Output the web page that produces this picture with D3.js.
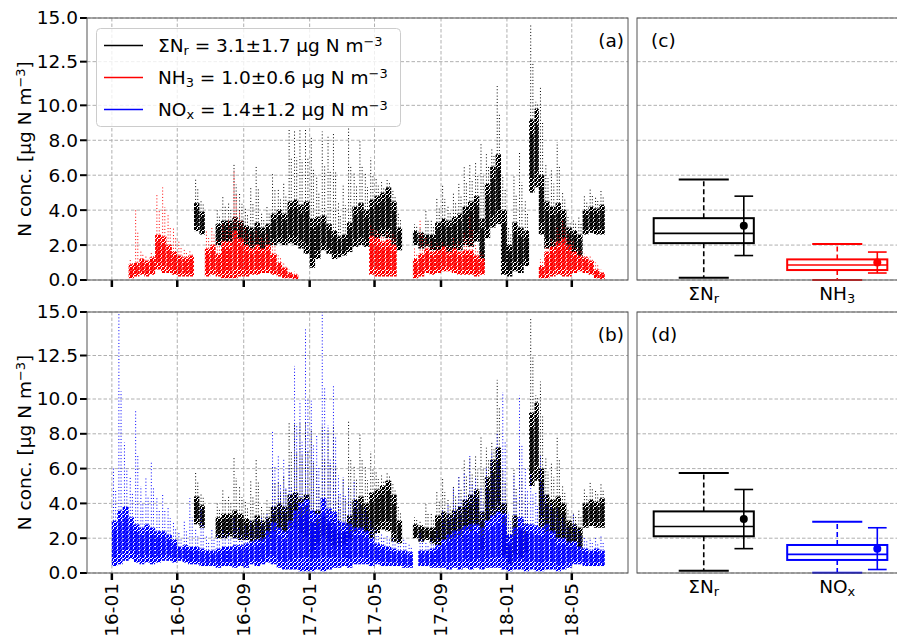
<!DOCTYPE html>
<html><head><meta charset="utf-8">
<script src="https://cdn.jsdelivr.net/npm/d3@7"></script>
<style>body{margin:0;background:#fff} text{font-family:"DejaVu Sans",sans-serif;fill:#000}</style>
</head><body><svg id="chart" width="897" height="640"></svg>
<script>
// ---- data (dekad bins: [core low, core high, peak]) ----
const dekads = [
"2016-01-01","2016-01-11","2016-01-21","2016-02-01","2016-02-11","2016-02-21","2016-03-01","2016-03-11","2016-03-21",
"2016-04-01","2016-04-11","2016-04-21","2016-05-01","2016-05-11","2016-05-21","2016-06-01","2016-06-11","2016-06-21",
"2016-07-01","2016-07-11","2016-07-21","2016-08-01","2016-08-11","2016-08-21","2016-09-01","2016-09-11","2016-09-21",
"2016-10-01","2016-10-11","2016-10-21","2016-11-01","2016-11-11","2016-11-21","2016-12-01","2016-12-11","2016-12-21",
"2017-01-01","2017-01-11","2017-01-21","2017-02-01","2017-02-11","2017-02-21","2017-03-01","2017-03-11","2017-03-21",
"2017-04-01","2017-04-11","2017-04-21","2017-05-01","2017-05-11","2017-05-21","2017-06-01","2017-06-11","2017-06-21",
"2017-07-01","2017-07-11","2017-07-21","2017-08-01","2017-08-11","2017-08-21","2017-09-01","2017-09-11","2017-09-21",
"2017-10-01","2017-10-11","2017-10-21","2017-11-01","2017-11-11","2017-11-21","2017-12-01","2017-12-11","2017-12-21",
"2018-01-01","2018-01-11","2018-01-21","2018-02-01","2018-02-11","2018-02-21","2018-03-01","2018-03-11","2018-03-21",
"2018-04-01","2018-04-11","2018-04-21","2018-05-01","2018-05-11","2018-05-21","2018-06-01","2018-06-11","2018-06-21",
"2018-07-01"];

const sumNr = [
null,null,null,null,null,null,null,null,null,
null,null,null,null,null,null,[2.8,4.4,5.8],[2.6,3.9,4.6],null,
null,[2.0,3.2,4.0],[2.0,3.4,4.8],[2.1,3.4,4.4],[2.0,3.6,6.7],[1.9,3.4,5.0],[1.9,3.1,4.2],[1.8,3.0,5.3],[1.7,3.3,6.5],
[1.5,3.0,3.8],[1.8,3.2,4.2],[2.0,3.8,6.1],[2.1,4.0,5.2],[2.0,3.8,5.6],[2.1,4.5,8.7],[2.0,4.6,8.6],[1.8,4.3,8.6],[1.5,4.5,8.7],
[0.7,3.5,8.2],[1.2,3.6,6.0],[1.7,3.7,8.5],[1.5,3.2,8.2],[1.2,2.8,8.4],[1.3,2.5,4.5],[1.4,2.6,5.4],[1.6,3.3,8.8],[1.9,4.2,6.2],
[2.0,4.4,8.0],[1.9,4.0,6.2],[2.0,4.6,7.0],[2.3,4.8,5.8],[2.5,5.0,5.6],[2.4,5.3,5.8],[1.8,4.5,5.1],[1.7,3.0,3.8],null,
null,[2.0,2.8,3.2],[1.8,2.7,3.0],[1.9,2.6,4.0],[1.7,2.6,3.4],[1.6,3.3,4.7],[1.5,3.5,5.4],[1.6,3.4,4.3],[1.6,3.6,5.0],
[1.7,3.8,5.5],[2.0,4.2,6.5],[1.9,4.5,6.6],[2.2,4.8,6.7],[0.8,3.5,7.8],[2.4,5.5,7.2],[3.0,6.5,7.5],[3.2,7.2,11.1],[0.3,4.0,6.0],
[0.2,2.0,3.0],[0.5,3.3,6.0],[0.4,3.0,7.3],[0.8,2.8,4.5],[5.0,9.2,14.6],[5.3,9.8,10.2],[2.6,6.0,11.0],[1.8,4.5,6.7],[1.8,4.2,6.4],
[1.4,4.4,7.9],[1.5,4.0,5.0],[1.4,3.0,3.6],[1.6,2.8,3.5],[1.1,2.6,3.7],[2.6,4.0,4.8],[2.7,4.2,5.3],[2.6,4.1,4.8],[2.6,4.3,5.2],
null];

const nh3 = [
null,null,null,[0.1,0.9,1.2],[0.2,1.0,4.0],[0.3,1.2,1.7],[0.2,1.1,1.4],[0.3,1.3,1.6],[0.6,2.6,4.9],
[0.4,2.5,5.3],[0.4,2.0,3.8],[0.3,1.6,3.0],[0.2,1.4,2.2],[0.2,1.3,1.8],[0.2,1.4,1.7],null,null,[0.2,1.8,2.8],
[0.3,2.0,3.0],[0.2,1.5,2.3],[0.1,2.2,3.2],[0.1,2.2,3.5],[0.1,2.8,6.3],[0.2,2.4,4.0],[0.2,2.0,3.0],[0.3,1.8,2.6],[0.3,2.0,2.8],
[0.4,1.8,2.5],[0.4,2.0,2.6],[0.3,1.5,2.2],[0.2,1.0,1.4],[0.1,0.7,1.0],[0.1,0.4,0.6],[0.05,0.3,0.5],null,null,
null,null,null,null,null,null,null,null,null,
null,null,[0.3,2.5,3.2],[0.2,2.4,2.9],[0.2,2.2,2.6],[0.2,2.3,2.8],[0.2,2.0,2.7],null,null,
null,[0.1,1.2,1.8],[0.2,1.5,3.4],[0.4,1.8,2.4],[0.3,1.6,2.2],[0.4,1.7,2.1],[0.5,1.9,2.2],[0.5,1.6,2.0],[0.4,1.8,2.4],
[0.3,1.6,2.2],[0.3,1.7,2.7],[0.3,1.7,3.7],[0.2,1.4,2.0],[0.3,1.2,1.6],null,null,null,null,
null,null,null,null,null,null,[0.1,0.8,1.2],[0.1,1.6,2.0],[0.2,1.9,2.4],
[0.3,2.2,3.0],[0.2,2.4,3.4],[0.2,2.0,2.6],[0.4,1.6,2.2],[0.5,1.4,1.8],[0.4,1.3,1.5],[0.3,1.1,1.4],[0.1,0.6,1.0],[0.05,0.4,0.6],
null];

const nox = [
[0.4,3.0,6.0],[0.5,3.6,15.0],[0.7,3.8,7.5],[0.8,3.2,5.5],[0.6,2.8,9.4],[0.5,2.6,5.0],[0.6,2.8,5.5],[0.5,2.6,6.4],[0.6,2.4,4.4],
[0.7,2.4,4.5],[0.7,2.2,3.8],[0.6,1.9,3.0],[0.7,1.5,2.4],[0.6,1.6,3.0],[0.5,1.5,4.3],[0.5,1.5,2.5],[0.4,1.4,3.7],[0.4,1.3,2.2],
[0.4,1.3,2.5],[0.3,1.4,2.2],[0.4,1.5,2.6],[0.4,1.5,2.4],[0.3,1.6,3.2],[0.4,1.6,2.6],[0.3,1.7,2.8],[0.5,1.8,3.0],[0.4,1.9,3.2],
[0.5,2.0,3.3],[0.6,2.4,3.4],[0.5,2.9,8.2],[0.3,2.6,6.8],[0.2,2.4,6.6],[0.2,3.0,6.2],[0.2,3.6,11.9],[0.1,4.0,9.9],[0.1,4.2,14.0],
[0.1,3.6,9.9],[0.2,3.4,8.0],[0.1,4.3,15.0],[0.2,3.7,8.5],[0.3,3.5,10.8],[0.3,3.0,5.6],[0.4,2.9,5.5],[0.3,2.8,5.0],[0.5,2.6,5.3],
[0.5,2.6,4.0],[0.5,2.4,3.8],[0.4,2.0,3.0],[0.5,1.7,2.5],[0.4,1.6,2.3],[0.4,1.5,2.2],[0.4,1.4,2.0],[0.4,1.3,1.9],[0.3,1.3,2.0],
[0.3,1.2,1.7],null,[0.4,1.3,2.4],[0.4,1.3,1.8],[0.3,1.4,2.0],[0.3,1.6,2.5],[0.3,1.9,3.6],[0.2,2.2,4.0],[0.3,2.4,4.9],
[0.2,2.5,5.5],[0.3,2.7,5.7],[0.2,2.8,6.8],[0.3,2.8,5.5],[0.2,2.6,5.0],[0.3,3.0,6.0],[0.3,3.3,7.0],[0.3,3.5,8.1],[0.2,3.4,10.4],
[0.1,2.2,3.5],[0.2,2.6,5.7],[0.2,3.2,10.2],[0.1,2.8,6.0],[0.2,2.8,5.7],[0.1,2.7,4.6],[0.1,2.6,6.7],[0.2,2.8,4.5],[0.2,2.4,4.0],
[0.1,2.0,3.7],[0.2,2.0,3.3],[0.3,1.8,2.6],[0.5,1.8,3.4],[0.5,1.5,2.6],[0.4,1.4,2.1],[0.4,1.3,2.0],[0.4,1.4,2.0],[0.4,1.3,2.1],
null];

const xTickDates = ["2016-01-01","2016-05-01","2016-09-01","2017-01-01","2017-05-01","2017-09-01","2018-01-01","2018-05-01"];
const xTickLabels = ["16-01","16-05","16-09","17-01","17-05","17-09","18-01","18-05"];
const yTicks = [0, 2, 4, 6, 8, 10, 12.5, 15];
const yTickLabels = ["0.0","2.0","4.0","6.0","8.0","10.0","12.5","15.0"];

// box statistics: [ΣNr, NH3, NOx]
const boxNames = ["sumNr","nh3","nox"];
const boxQ1 = [2.11, 0.57, 0.75];
const boxMedian = [2.67, 0.86, 1.07];
const boxQ3 = [3.54, 1.18, 1.61];
const boxWhiskerLow = [0.13, 0.0, 0.02];
const boxWhiskerHigh = [5.75, 2.06, 2.95];
const seriesMean = [3.1, 1.0, 1.4];
const seriesStd = [1.7, 0.6, 1.2];

// ---- drawing ----
const svg = d3.select("#chart");
const FS = 18.5;
const parse = d3.utcParse("%Y-%m-%d");
const dates = dekads.map(parse);
const colors = {sumNr:"#000000", nh3:"#ff0000", nox:"#0000ff"};
const GRID = "#b0b0b0", SPINE = "#555";

const x = d3.scaleUtc().domain([Date.UTC(2015,10,16), Date.UTC(2018,7,13)]).range([87, 628]);
const panels = [
  {id:"a", top:18, bottom:280, series:[["sumNr",sumNr],["nh3",nh3]], box:[0,1], showX:false},
  {id:"b", top:312, bottom:573, series:[["sumNr",sumNr],["nox",nox]], box:[0,2], showX:true}
];
const boxLeft = 637, boxRight = 904;
const defs = svg.append("defs");

// speckle pattern so dense point clouds look like scattered dots
const speck = [[0,0],[2,0],[3,0],[1,1],[3,1],[0,2],[1,2],[2,3],[3,3],[0,3],[2,1]];
Object.entries(colors).forEach(([n, c]) => {
  const pat = defs.append("pattern").attr("id", "pat-" + n).attr("patternUnits", "userSpaceOnUse")
    .attr("width", 4).attr("height", 4);
  speck.forEach(([a, b]) => pat.append("rect").attr("x", a).attr("y", b).attr("width", 1).attr("height", 1).attr("fill", c));
});

function richLabel(sel, parts, size) {
  parts.forEach(([t, m]) => {
    const ts = sel.append("tspan").text(t);
    if (m === "sub") ts.attr("font-size", size*0.7).attr("baseline-shift", "-22%");
    else if (m === "sup") ts.attr("font-size", size*0.7).attr("baseline-shift", "45%");
  });
}
const nameParts = {
  sumNr: [["ΣN","n"],["r","sub"]],
  nh3: [["NH","n"],["3","sub"]],
  nox: [["NO","n"],["x","sub"]]
};

panels.forEach((p, pi) => {
  const y = d3.scaleLinear().domain([0, 15]).range([p.bottom, p.top]);
  const g = svg.append("g");
  g.selectAll(".hg").data(yTicks).join("line")
    .attr("x1", 87).attr("x2", 628).attr("y1", d => y(d)).attr("y2", d => y(d))
    .attr("stroke", GRID).attr("stroke-dasharray", "3.5,2").attr("stroke-width", 1);
  g.selectAll(".vg").data(xTickDates).join("line")
    .attr("x1", d => x(parse(d))).attr("x2", d => x(parse(d))).attr("y1", p.top).attr("y2", p.bottom)
    .attr("stroke", GRID).attr("stroke-dasharray", "3.5,2").attr("stroke-width", 1);

  defs.append("clipPath").attr("id", "clip" + p.id).append("rect")
    .attr("x", 87).attr("y", p.top).attr("width", 628 - 87).attr("height", p.bottom - p.top);
  const dg = g.append("g").attr("clip-path", `url(#clip${p.id})`);

  p.series.forEach(([name, data]) => {
    const col = colors[name];
    const sg = dg.append("g");
    data.forEach((d, i) => {
      if (!d) return;
      const x0 = x(dates[i]);
      const x1 = i < dates.length - 1 ? x(dates[i+1]) : x0 + (x0 - x(dates[i-1]));
      const w = x1 - x0;
      // sparse spikes above the dense core
      [0.3, 0.7].forEach((f, j) => {
        const top = j === 0 ? d[2] : d[1] + (d[2] - d[1]) * 0.6;
        sg.append("line").attr("x1", x0 + w*f).attr("x2", x0 + w*f).attr("y1", y(d[1])).attr("y2", y(top))
          .attr("stroke", col).attr("stroke-width", 1).attr("stroke-dasharray", "1,2.2");
      });
      // dense core: solid centre band plus speckled outer band
      const mid = d[0] + (d[1] - d[0]) * 0.5;
      sg.append("rect").attr("x", x0).attr("width", w)
        .attr("y", y(d[1])).attr("height", y(d[0]) - y(d[1]))
        .attr("fill", `url(#pat-${name})`);
      sg.append("rect").attr("x", x0 + w*0.15).attr("width", w*0.7)
        .attr("y", y(d[1] - (d[1]-d[0])*0.2)).attr("height", y(d[0] + (d[1]-d[0])*0.2) - y(d[1] - (d[1]-d[0])*0.2))
        .attr("fill", col).attr("fill-opacity", 0.7);
    });
  });

  yTicks.forEach((t, i) => {
    g.append("line").attr("x1", 80).attr("x2", 87).attr("y1", y(t)).attr("y2", y(t))
      .attr("stroke", "#000").attr("stroke-width", 2);
    g.append("text").attr("x", 78).attr("y", y(t)).attr("dy", "0.35em")
      .attr("text-anchor", "end").attr("font-size", FS).text(yTickLabels[i]);
  });
  xTickDates.forEach((d, i) => {
    const xx = x(parse(d));
    g.append("line").attr("x1", xx).attr("x2", xx).attr("y1", p.bottom).attr("y2", p.bottom + 7)
      .attr("stroke", "#000").attr("stroke-width", 2.5);
    if (p.showX) {
      g.append("text").attr("transform", `translate(${xx},${p.bottom + 10}) rotate(-90)`)
        .attr("text-anchor", "end").attr("dy", "0.35em").attr("font-size", FS).text(xTickLabels[i]);
    }
  });
  g.append("rect").attr("x", 87).attr("y", p.top).attr("width", 628 - 87).attr("height", p.bottom - p.top)
    .attr("fill", "none").attr("stroke", SPINE).attr("stroke-width", 1);
  const yl = g.append("text").attr("transform", `translate(31,${(p.top + p.bottom)/2}) rotate(-90)`)
    .attr("text-anchor", "middle").attr("font-size", FS);
  richLabel(yl, [["N conc. [μg N m","n"],["−3","sup"],["]","n"]], FS);
  g.append("text").attr("x", 624).attr("y", p.top + 29).attr("text-anchor", "end")
    .attr("font-size", FS).text(`(${p.id})`);

  // ---- box panel ----
  const bx = d3.scaleLinear().domain([0.5, 2.5]).range([boxLeft, boxRight]);
  const bg = svg.append("g");
  bg.selectAll(".bhg").data(yTicks).join("line")
    .attr("x1", boxLeft).attr("x2", 897).attr("y1", d => y(d)).attr("y2", d => y(d))
    .attr("stroke", GRID).attr("stroke-dasharray", "3.5,2").attr("stroke-width", 1);
  p.box.forEach((si, k) => {
    const name = boxNames[si];
    const col = colors[name];
    const c = bx(k + 1);
    const hw = (bx(k + 1 + 0.375) - c);
    const cw = (bx(k + 1 + 0.1875) - c);
    [[boxQ3[si], boxWhiskerHigh[si]], [boxQ1[si], boxWhiskerLow[si]]].forEach(([a, b]) => {
      bg.append("line").attr("x1", c).attr("x2", c).attr("y1", y(a)).attr("y2", y(b))
        .attr("stroke", col).attr("stroke-width", 1.6).attr("stroke-dasharray", "5,3");
      bg.append("line").attr("x1", c - cw).attr("x2", c + cw).attr("y1", y(b)).attr("y2", y(b))
        .attr("stroke", col).attr("stroke-width", 2);
    });
    bg.append("rect").attr("x", c - hw).attr("width", 2 * hw)
      .attr("y", y(boxQ3[si])).attr("height", y(boxQ1[si]) - y(boxQ3[si]))
      .attr("fill", "none").attr("stroke", col).attr("stroke-width", 2);
    bg.append("line").attr("x1", c - hw).attr("x2", c + hw).attr("y1", y(boxMedian[si])).attr("y2", y(boxMedian[si]))
      .attr("stroke", col).attr("stroke-width", 1.6);
    const mx = bx(k + 1 + 0.3);
    const ew = bx(k + 1 + 0.07) - c;
    const lo = seriesMean[si] - seriesStd[si], hi = seriesMean[si] + seriesStd[si];
    bg.append("line").attr("x1", mx).attr("x2", mx).attr("y1", y(lo)).attr("y2", y(hi))
      .attr("stroke", col).attr("stroke-width", 1.6);
    [lo, hi].forEach(v => bg.append("line").attr("x1", mx - ew).attr("x2", mx + ew).attr("y1", y(v)).attr("y2", y(v))
      .attr("stroke", col).attr("stroke-width", 1.6));
    bg.append("circle").attr("cx", mx).attr("cy", y(seriesMean[si])).attr("r", 4).attr("fill", col);
    const tl = bg.append("text").attr("x", c).attr("y", p.bottom + 20).attr("text-anchor", "middle").attr("font-size", FS);
    richLabel(tl, nameParts[name], FS);
  });
  bg.append("rect").attr("x", boxLeft).attr("y", p.top).attr("width", boxRight - boxLeft).attr("height", p.bottom - p.top)
    .attr("fill", "none").attr("stroke", SPINE).attr("stroke-width", 1);
  bg.append("text").attr("x", 651).attr("y", p.top + 29).attr("font-size", FS).text(`(${String.fromCharCode(99 + pi)})`);
});

// ---- legend ----
const legendNames = ["sumNr","nh3","nox"];
const lg = svg.append("g");
lg.append("rect").attr("x", 96.5).attr("y", 28.5).attr("width", 304).attr("height", 98).attr("rx", 4)
  .attr("fill", "#fff").attr("fill-opacity", 0.8).attr("stroke", "#cccccc");
legendNames.forEach((n, i) => {
  const yy = 45.5 + i * 32;
  lg.append("line").attr("x1", 104).attr("x2", 143).attr("y1", yy).attr("y2", yy)
    .attr("stroke", colors[n]).attr("stroke-width", 1.5);
  const t = lg.append("text").attr("x", 158).attr("y", yy).attr("dy", "0.35em").attr("font-size", FS);
  richLabel(t, nameParts[n], FS);
  richLabel(t, [[` = ${seriesMean[i].toFixed(1)}±${seriesStd[i].toFixed(1)} μg N m`,"n"],["−3","sup"]], FS);
});
</script></body></html>
